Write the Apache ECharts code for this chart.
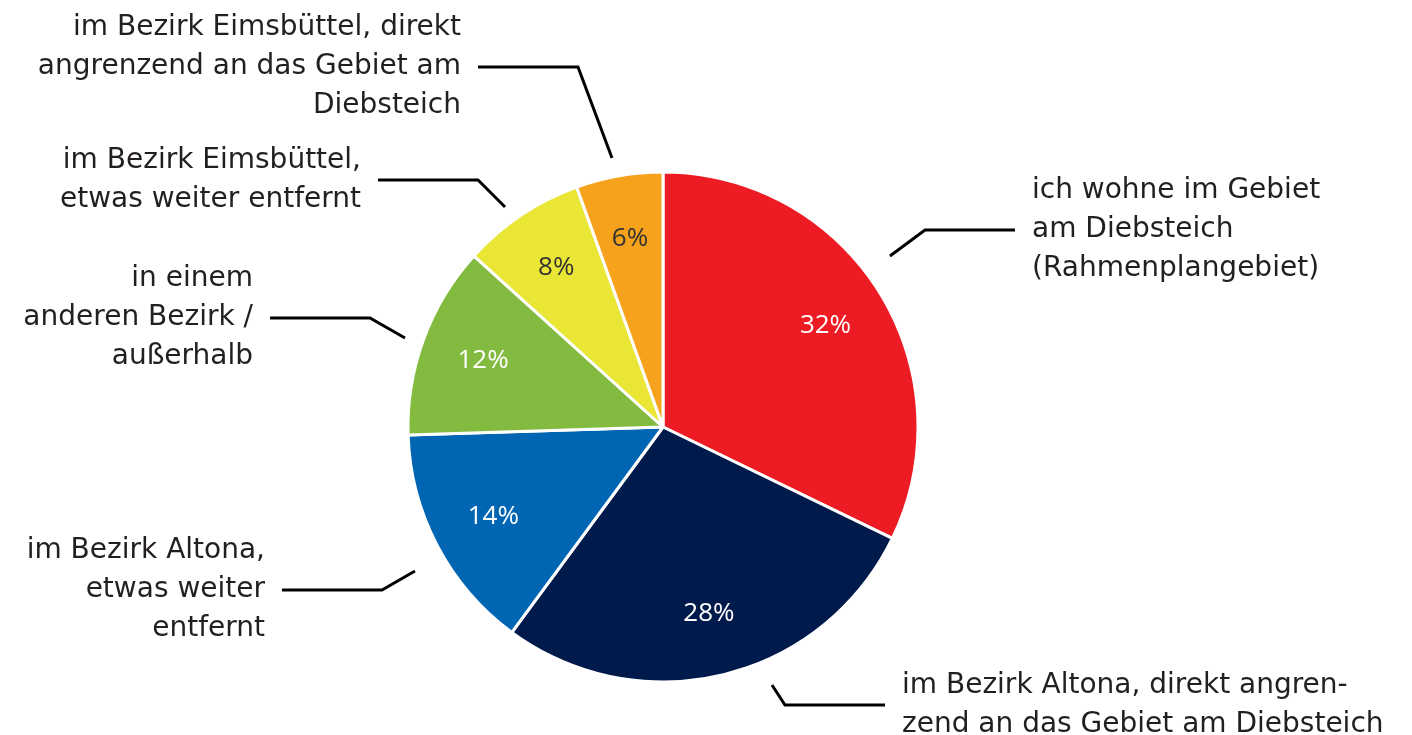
<!DOCTYPE html>
<html>
<head>
<meta charset="utf-8">
<script src="https://cdn.jsdelivr.net/npm/echarts@6/dist/echarts.min.js"></script>
<style>
  html, body { margin: 0; padding: 0; background: #fff; }
  #main { width: 1412px; height: 735px; }
</style>
</head>
<body>
<div id="main"></div>
<script>
// Wohnort der Befragten (Anteile in %)
const categories = [
  'ich wohne im Gebiet\nam Diebsteich\n(Rahmenplangebiet)',
  'im Bezirk Altona, direkt angren-\nzend an das Gebiet am Diebsteich',
  'im Bezirk Altona,\netwas weiter\nentfernt',
  'in einem\nanderen Bezirk /\naußerhalb',
  'im Bezirk Eimsbüttel,\netwas weiter entfernt',
  'im Bezirk Eimsbüttel, direkt\nangrenzend an das Gebiet am\nDiebsteich'
]
// aus den Segmentwinkeln geschätzt, Beschriftung gerundet
const values = [32.2, 27.9, 14.4, 12.2, 7.8, 5.5]
const colors = ['#ED1C24', '#001A4B', '#0066B3', '#83BB41', '#E9E636', '#F6A21D']
const pctColors = ['#fff', '#fff', '#fff', '#fff', '#333', '#333']

// Position der Beschriftungen und Führungslinien (Pixel)
const leaderLines = [
  [[890, 256], [925, 230], [1015, 230]],
  [[772, 685], [785, 705], [885, 705]],
  [[415, 571], [382, 590], [282, 590]],
  [[405, 338], [370, 318], [270, 318]],
  [[505, 207], [478, 180], [378, 180]],
  [[612, 158], [578, 67], [478, 67]]
]
const labelGap = 17

const center = [663, 427]
const radius = 255

const chart = echarts.init(document.getElementById('main'))

const pieData = categories.map((name, i) => ({
  name: name,
  value: values[i],
  itemStyle: { color: colors[i] }
}))

const option = {
  animation: false,
  series: [
    {
      type: 'pie',
      center: center,
      radius: [0, radius],
      startAngle: 90,
      clockwise: true,
      silent: true,
      itemStyle: { borderColor: '#fff', borderWidth: 3 },
      label: { show: false },
      labelLine: { show: false },
      data: pieData
    },
    {
      // Prozentwerte innen
      type: 'pie',
      center: center,
      radius: [radius * 0.48, radius],
      startAngle: 90,
      clockwise: true,
      silent: true,
      itemStyle: { color: 'transparent' },
      label: {
        show: true,
        position: 'inside',
        fontFamily: 'Open Sans',
        fontSize: 26,
        formatter: p => Math.round(p.value) + '%',
        color: '#fff'
      },
      labelLine: { show: false },
      data: values.map((v, i) => ({
        name: categories[i],
        value: v,
        label: { color: pctColors[i] }
      }))
    },
    {
      // Beschriftungen aussen
      type: 'pie',
      center: center,
      radius: [0, radius + 25],
      startAngle: 90,
      clockwise: true,
      silent: true,
      itemStyle: { color: 'transparent' },
      label: {
        show: true,
        position: 'outside',
        fontFamily: 'DejaVu Sans',
        fontSize: 28,
        lineHeight: 39,
        color: '#231F20'
      },
      labelLine: {
        show: true,
        lineStyle: { color: '#000', width: 3 }
      },
      labelLayout: function (params) {
        const pts = leaderLines[params.dataIndex]
        const end = pts[2]
        const toRight = end[0] > pts[1][0]
        return {
          x: toRight ? end[0] + labelGap : end[0] - labelGap,
          y: end[1],
          align: toRight ? 'left' : 'right',
          verticalAlign: 'middle',
          labelLinePoints: pts
        }
      },
      data: values.map((v, i) => ({ name: categories[i], value: v }))
    }
  ]
}

chart.setOption(option)
</script>
</body>
</html>
